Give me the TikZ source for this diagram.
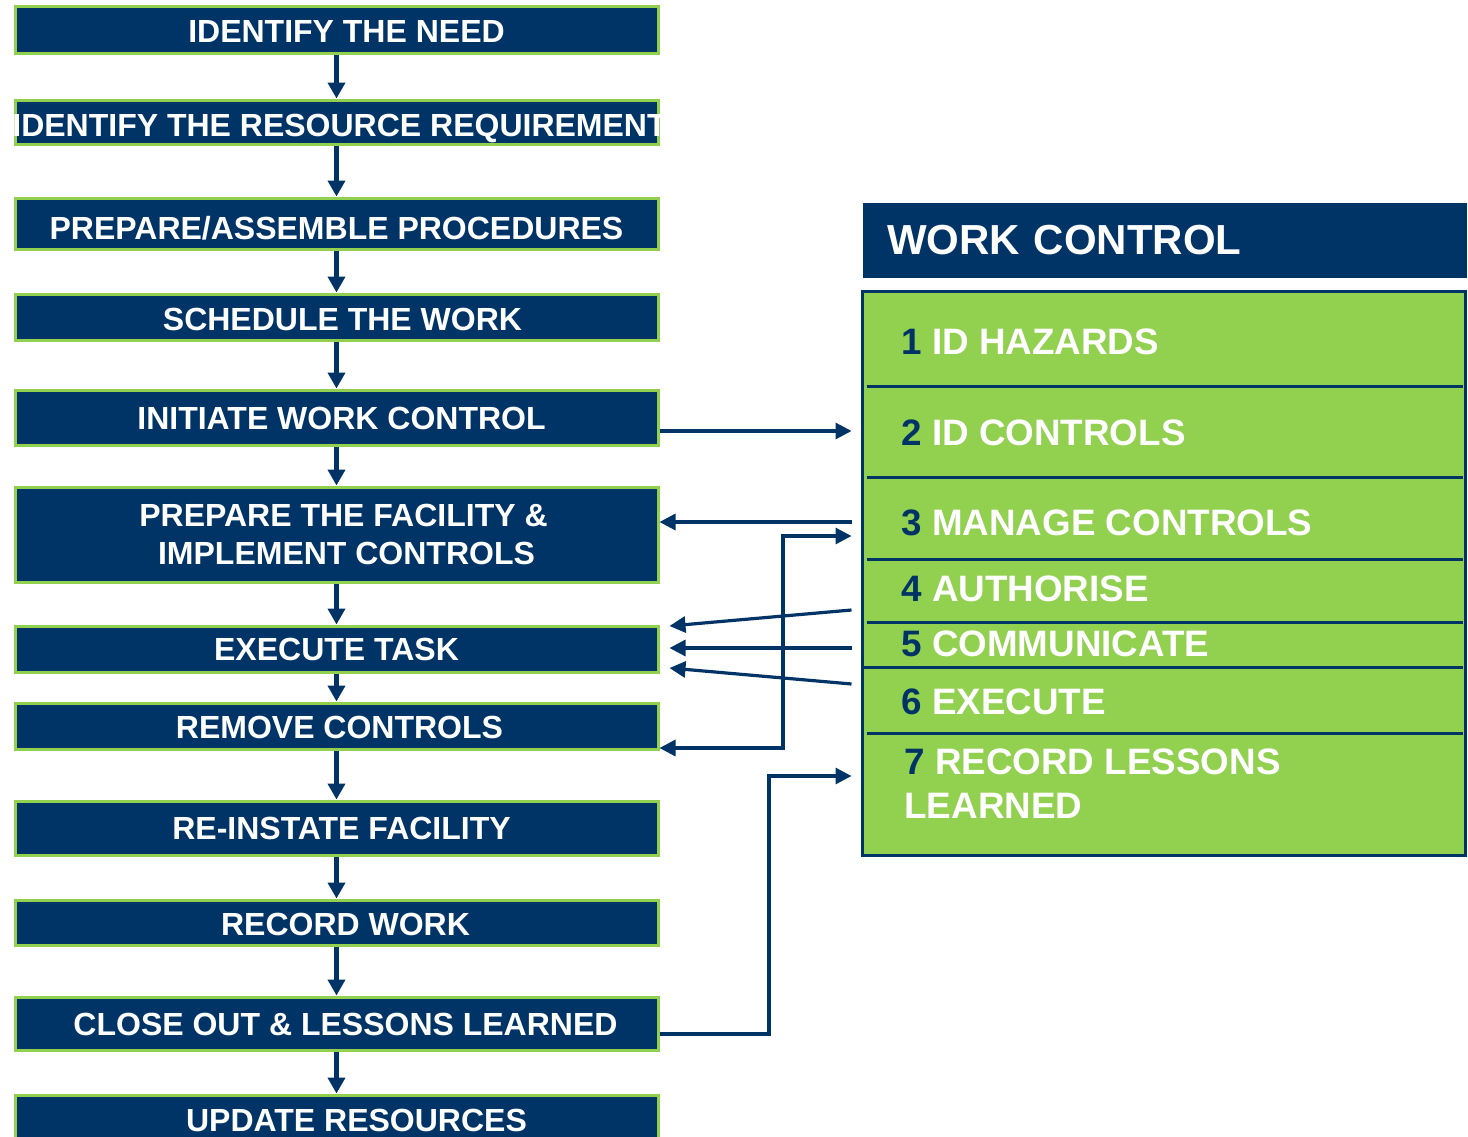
\documentclass[tikz,border=0pt]{standalone}
\usepackage{fontspec}
\setmainfont{Liberation Sans}
\usetikzlibrary{arrows.meta}
\definecolor{navy}{RGB}{0,52,102}
\definecolor{lgreen}{RGB}{146,208,80}
\tikzset{
  flowbox/.style={draw=lgreen, fill=navy, line width=1.5pt, minimum width=321.5pt,
    inner sep=0pt, text=white, align=center, font=\fontsize{16}{19}\selectfont\bfseries},
  capshift/.style={text depth=0pt, text height=#1},
  varrow/.style={draw=navy, line width=2.2pt, -{Triangle[length=8pt,width=8.5pt]}},
  harrow/.style={draw=navy, line width=1.6pt, -{Triangle[length=8pt,width=8pt]}},
  darrow/.style={draw=navy, line width=1.6pt, {Triangle[length=8pt,width=8pt]}-{Triangle[length=8pt,width=8pt]}},
  rowbox/.style={minimum width=301.5pt, inner sep=0pt},
  rowtext/.style={anchor=west, inner sep=0pt, text=white, align=left,
    font=\fontsize{18.4}{22}\selectfont\bfseries},
  divider/.style={draw=navy, line width=1.5pt}
}
\begin{document}
\begin{tikzpicture}[x=0.5pt, y=-0.5pt]
\useasboundingbox (0,0) rectangle (1468,1136);
\fill[white] (0,0) rectangle (1468,1136);
\clip (0,0) rectangle (1468,1136);

% left flow
\node[flowbox, capshift=13pt, minimum height=23.5pt] (b1) at (336.5,29.5) {\hspace*{10pt}IDENTIFY THE NEED};
\node[flowbox, capshift=14.5pt, minimum height=22pt] (b2) at (336.5,122) {\makebox[0pt]{\hspace*{3pt}IDENTIFY THE RESOURCE REQUIREMENT}};
\node[flowbox, capshift=16pt, minimum height=25.5pt] (b3) at (336.5,223.5) {PREPARE/ASSEMBLE PROCEDURES};
\node[flowbox, capshift=13pt, minimum height=23pt] (b4) at (336.5,317) {\hspace*{6pt}SCHEDULE THE WORK};
\node[flowbox, capshift=12pt, minimum height=27.5pt] (b5) at (336.5,417.5) {\hspace*{5pt}INITIATE WORK CONTROL};
\node[flowbox, minimum height=47.5pt] (b6) at (336.5,534.5) {\hspace*{7pt}PREPARE THE FACILITY \&\\\hspace*{10pt}IMPLEMENT CONTROLS};
\node[flowbox, capshift=11pt, minimum height=23pt] (b7) at (336.5,649) {EXECUTE TASK};
\node[flowbox, capshift=12.5pt, minimum height=23pt] (b8) at (336.5,726) {\hspace*{3pt}REMOVE CONTROLS};
\node[flowbox, capshift=11pt, minimum height=27pt] (b9) at (336.5,828) {\hspace*{5pt}RE-INSTATE FACILITY};
\node[flowbox, capshift=12.5pt, minimum height=22.5pt] (b10) at (336.5,922.5) {\hspace*{9pt}RECORD WORK};
\node[flowbox, capshift=12pt, minimum height=26.5pt] (b11) at (336.5,1023.5) {\hspace*{9pt}CLOSE OUT \& LESSONS LEARNED};
\node[flowbox, capshift=11pt, minimum height=25pt] (b12) at (336.5,1120) {\hspace*{20pt}UPDATE RESOURCES};

\foreach \a/\b in {b1/b2,b2/b3,b3/b4,b4/b5,b5/b6,b6/b7,b7/b8,b8/b9,b9/b10,b10/b11,b11/b12}
  \draw[varrow] (\a) -- (\b);

% right panel
\node[fill=navy, minimum width=302pt, minimum height=37.5pt, text width=278pt, inner xsep=12pt,
  inner ysep=0pt, align=left, text=white, font=\fontsize{21}{25}\selectfont\bfseries] (hdr) at (1165,240.5) {WORK CONTROL};

\node[draw=navy, fill=lgreen, line width=1.5pt, minimum width=301.5pt, minimum height=282pt, inner sep=0pt] (panel) at (1163.5,573) {};

\node[rowbox, minimum height=47pt] (r1) at (1163.5,339) {};
\node[rowbox, minimum height=45.5pt] (r2) at (1163.5,431.5) {};
\node[rowbox, minimum height=41pt] (r3) at (1163.5,518) {};
\node[rowbox, minimum height=31.5pt] (r4) at (1163.5,590.5) {};
\node[rowbox, minimum height=22.5pt] (r5) at (1163.5,644.5) {};
\node[rowbox, minimum height=33pt] (r6) at (1163.5,700) {};
\node[rowbox, minimum height=61pt] (r7) at (1163.5,794) {};

\foreach \r in {r1,r2,r3,r4,r6}
  \draw[divider] ([xshift=2.5pt]\r.south west) -- ([xshift=-1pt]\r.south east);
\draw[divider] ([xshift=1pt]r5.south west) -- ([xshift=-1pt]r5.south east);

\node[rowtext] (t1) at (901,342) {\textcolor{navy}{1} ID HAZARDS};
\node[rowtext] (t2) at (901,433) {\textcolor{navy}{2} ID CONTROLS};
\node[rowtext] (t3) at (901,523) {\textcolor{navy}{3} MANAGE CONTROLS};
\node[rowtext] (t4) at (901,589) {\textcolor{navy}{4} AUTHORISE};
\node[rowtext] (t5) at (901,644) {\textcolor{navy}{5} COMMUNICATE};
\node[rowtext] (t6) at (901,702) {\textcolor{navy}{6} EXECUTE};
\node[rowtext] (t7) at (904,784) {\textcolor{navy}{7} RECORD LESSONS\\LEARNED};

% connectors
\coordinate (pw) at ([xshift=-4.5pt]panel.west);
\coordinate (e7) at ([xshift=5pt]b7.east);
\draw[harrow] (b5.east |- 0,431) -- (pw |- 0,431);
\draw[harrow] (pw |- 0,522) -- (b6.east |- 0,522);
\draw[darrow] (b8.east |- 0,748) -- (783,748) |- (pw |- 0,536);
\draw[harrow] (pw |- 0,610) -- (e7 |- 0,626);
\draw[harrow] (pw |- 0,648) -- (e7 |- 0,648);
\draw[harrow] (pw |- 0,684) -- (e7 |- 0,668);
\draw[harrow] (b11.east |- 0,1034) -- (769,1034) |- (pw |- 0,776);
\end{tikzpicture}
\end{document}
